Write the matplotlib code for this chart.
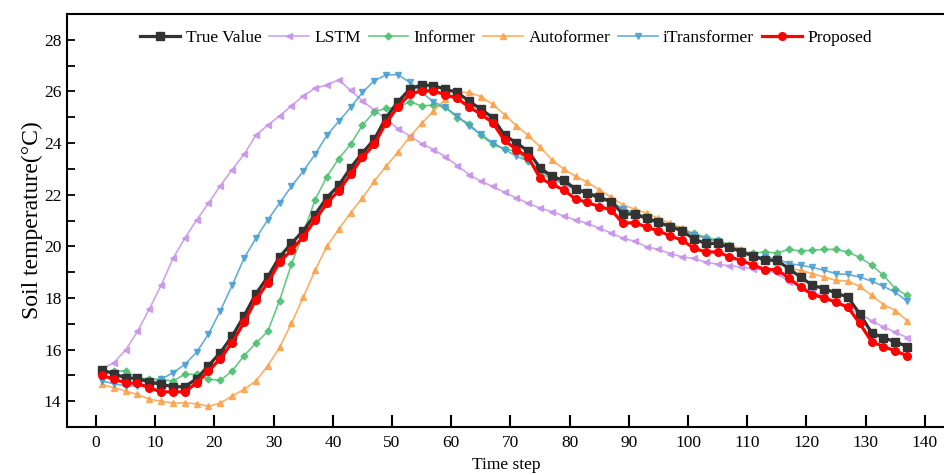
import numpy as np
import matplotlib
matplotlib.use("Agg")
import matplotlib.pyplot as plt
from matplotlib.ticker import MultipleLocator

plt.rcParams['font.family'] = ['Liberation Serif', 'DejaVu Serif']

# time steps with a marker (every second step)
time_step = np.arange(1, 138, 2)

true_value = [15.21, 15.06, 14.91, 14.88, 14.74, 14.65, 14.56, 14.56, 14.87, 15.38,
              15.88, 16.52, 17.30, 18.16, 18.81, 19.59, 20.11, 20.60, 21.23, 21.89,
              22.36, 23.04, 23.62, 24.14, 24.99, 25.60, 26.09, 26.26, 26.22, 26.09,
              25.96, 25.63, 25.31, 24.99, 24.30, 24.01, 23.68, 23.04, 22.71, 22.55,
              22.23, 22.06, 21.90, 21.73, 21.25, 21.25, 21.08, 20.93, 20.76, 20.60,
              20.28, 20.11, 20.11, 19.96, 19.78, 19.63, 19.46, 19.46, 19.14, 18.81,
              18.49, 18.36, 18.19, 18.03, 17.38, 16.66, 16.45, 16.31, 16.11]

lstm = [15.25, 15.49, 15.98, 16.70, 17.57, 18.49, 19.53, 20.31, 21.02, 21.67,
        22.35, 22.97, 23.56, 24.30, 24.69, 25.05, 25.44, 25.83, 26.12, 26.25,
        26.45, 26.04, 25.63, 25.28, 24.92, 24.56, 24.27, 23.98, 23.75, 23.47,
        23.13, 22.78, 22.52, 22.32, 22.09, 21.87, 21.67, 21.48, 21.34, 21.18,
        21.02, 20.89, 20.70, 20.52, 20.31, 20.20, 19.98, 19.88, 19.72, 19.59,
        19.53, 19.39, 19.30, 19.25, 19.19, 19.13, 19.07, 18.97, 18.62, 18.45,
        18.25, 18.05, 17.85, 17.60, 17.38, 17.12, 16.88, 16.68, 16.46]

informer = [15.13, 15.17, 15.17, 14.91, 14.85, 14.85, 14.78, 15.04, 15.04, 14.85,
            14.81, 15.17, 15.76, 16.25, 16.70, 17.90, 19.30, 20.50, 21.80, 22.70,
            23.40, 23.95, 24.69, 25.21, 25.34, 25.38, 25.60, 25.44, 25.47, 25.38,
            24.99, 24.75, 24.30, 23.95, 23.78, 23.68, 23.30, 22.84, 22.60, 22.45,
            22.25, 22.10, 21.95, 21.75, 21.45, 21.30, 21.15, 20.95, 20.80, 20.65,
            20.50, 20.35, 20.25, 20.05, 19.80, 19.74, 19.78, 19.74, 19.88, 19.82,
            19.85, 19.88, 19.88, 19.78, 19.57, 19.27, 18.88, 18.36, 18.10]

autoformer = [14.65, 14.52, 14.39, 14.26, 14.07, 14.00, 13.93, 13.93, 13.90, 13.80,
              13.93, 14.20, 14.46, 14.78, 15.37, 16.08, 17.01, 18.03, 19.07, 20.00,
              20.66, 21.30, 21.87, 22.52, 23.10, 23.65, 24.25, 24.76, 25.24, 25.70,
              25.96, 25.96, 25.80, 25.50, 25.10, 24.67, 24.30, 23.85, 23.35, 22.99,
              22.71, 22.48, 22.19, 21.90, 21.60, 21.44, 21.28, 21.08, 20.89, 20.70,
              20.47, 20.31, 20.17, 20.05, 19.90, 19.62, 19.46, 19.39, 19.14, 19.07,
              18.94, 18.81, 18.68, 18.65, 18.45, 18.10, 17.74, 17.51, 17.12]

itransformer = [14.78, 14.68, 14.59, 14.59, 14.65, 14.85, 15.10, 15.42, 15.90, 16.60,
                17.50, 18.49, 19.53, 20.31, 21.02, 21.67, 22.32, 22.91, 23.56, 24.30,
                24.84, 25.38, 25.96, 26.42, 26.64, 26.65, 26.35, 25.96, 25.60, 25.38,
                25.05, 24.66, 24.34, 24.01, 23.75, 23.49, 23.30, 22.97, 22.64, 22.40,
                22.20, 22.00, 21.85, 21.70, 21.45, 21.25, 21.10, 20.95, 20.80, 20.65,
                20.45, 20.30, 20.20, 20.00, 19.80, 19.62, 19.57, 19.53, 19.33, 19.27,
                19.18, 19.07, 18.94, 18.91, 18.81, 18.65, 18.45, 18.22, 17.87]

proposed = [15.00, 14.85, 14.71, 14.69, 14.52, 14.36, 14.36, 14.36, 14.71, 15.17,
            15.65, 16.27, 17.05, 17.93, 18.58, 19.39, 19.85, 20.37, 21.02, 21.67,
            22.16, 22.79, 23.45, 23.95, 24.79, 25.40, 25.90, 26.02, 26.02, 25.87,
            25.73, 25.40, 25.12, 24.79, 24.10, 23.75, 23.45, 22.64, 22.40, 22.19,
            21.83, 21.70, 21.54, 21.41, 20.89, 20.92, 20.74, 20.60, 20.40, 20.24,
            19.92, 19.78, 19.78, 19.59, 19.45, 19.27, 19.10, 19.10, 18.77, 18.42,
            18.13, 18.00, 17.83, 17.64, 17.01, 16.31, 16.11, 15.95, 15.76]

fig = plt.figure(figsize=(9.45, 4.75), dpi=100)
ax = fig.add_axes([67 / 945, 1 - 427 / 475, 1 - 67 / 945, 413 / 475])

thin = dict(lw=1.2, ms=4, alpha=0.85, zorder=2)
h_true, = ax.plot(time_step, true_value, color='#333333', marker='s', ms=5.5, lw=2.3,
                  label='True Value', zorder=3)
h_lstm, = ax.plot(time_step, lstm, color='#c893e8', marker='<', label='LSTM', **thin)
h_inf, = ax.plot(time_step, informer, color='#4cc070', marker='D', label='Informer',
                 **dict(thin, ms=3.5))
h_auto, = ax.plot(time_step, autoformer, color='#ffa047', marker='^', label='Autoformer', **thin)
h_itr, = ax.plot(time_step, itransformer, color='#4c9fd4', marker='v', label='iTransformer', **thin)
h_prop, = ax.plot(time_step, proposed, color='#ff0000', marker='o', ms=5.5, lw=2.3,
                  label='Proposed', zorder=4)

ax.set_xlim(-4.9, 143.4)
ax.set_ylim(13, 29)
ax.xaxis.set_major_locator(MultipleLocator(10))
ax.yaxis.set_minor_locator(MultipleLocator(1))
ax.set_yticks([14, 16, 18, 20, 22, 24, 26, 28])
ax.tick_params(axis='x', which='major', direction='in', length=9, width=1.5,
               labelsize=12.5, pad=6, top=False)
ax.tick_params(axis='y', which='both', direction='in', length=6, width=1.3,
               labelsize=12.5, pad=4, right=False)
for side in ['left', 'bottom', 'top']:
    ax.spines[side].set_linewidth(1.5)
ax.spines['right'].set_visible(False)

ax.set_xlabel('Time step', fontsize=12.5, labelpad=4)
ax.set_ylabel('Soil temperature(°C)', fontsize=17, labelpad=0.5)

ax.legend(handles=[h_true, h_lstm, h_inf, h_auto, h_itr, h_prop],
          loc='center', bbox_to_anchor=(0.5, 1 - 24 / 413), ncol=6, frameon=False,
          fontsize=12.5, handlelength=2.3, handletextpad=0.3, columnspacing=0.45)

fig.savefig('out.png', dpi=100)
